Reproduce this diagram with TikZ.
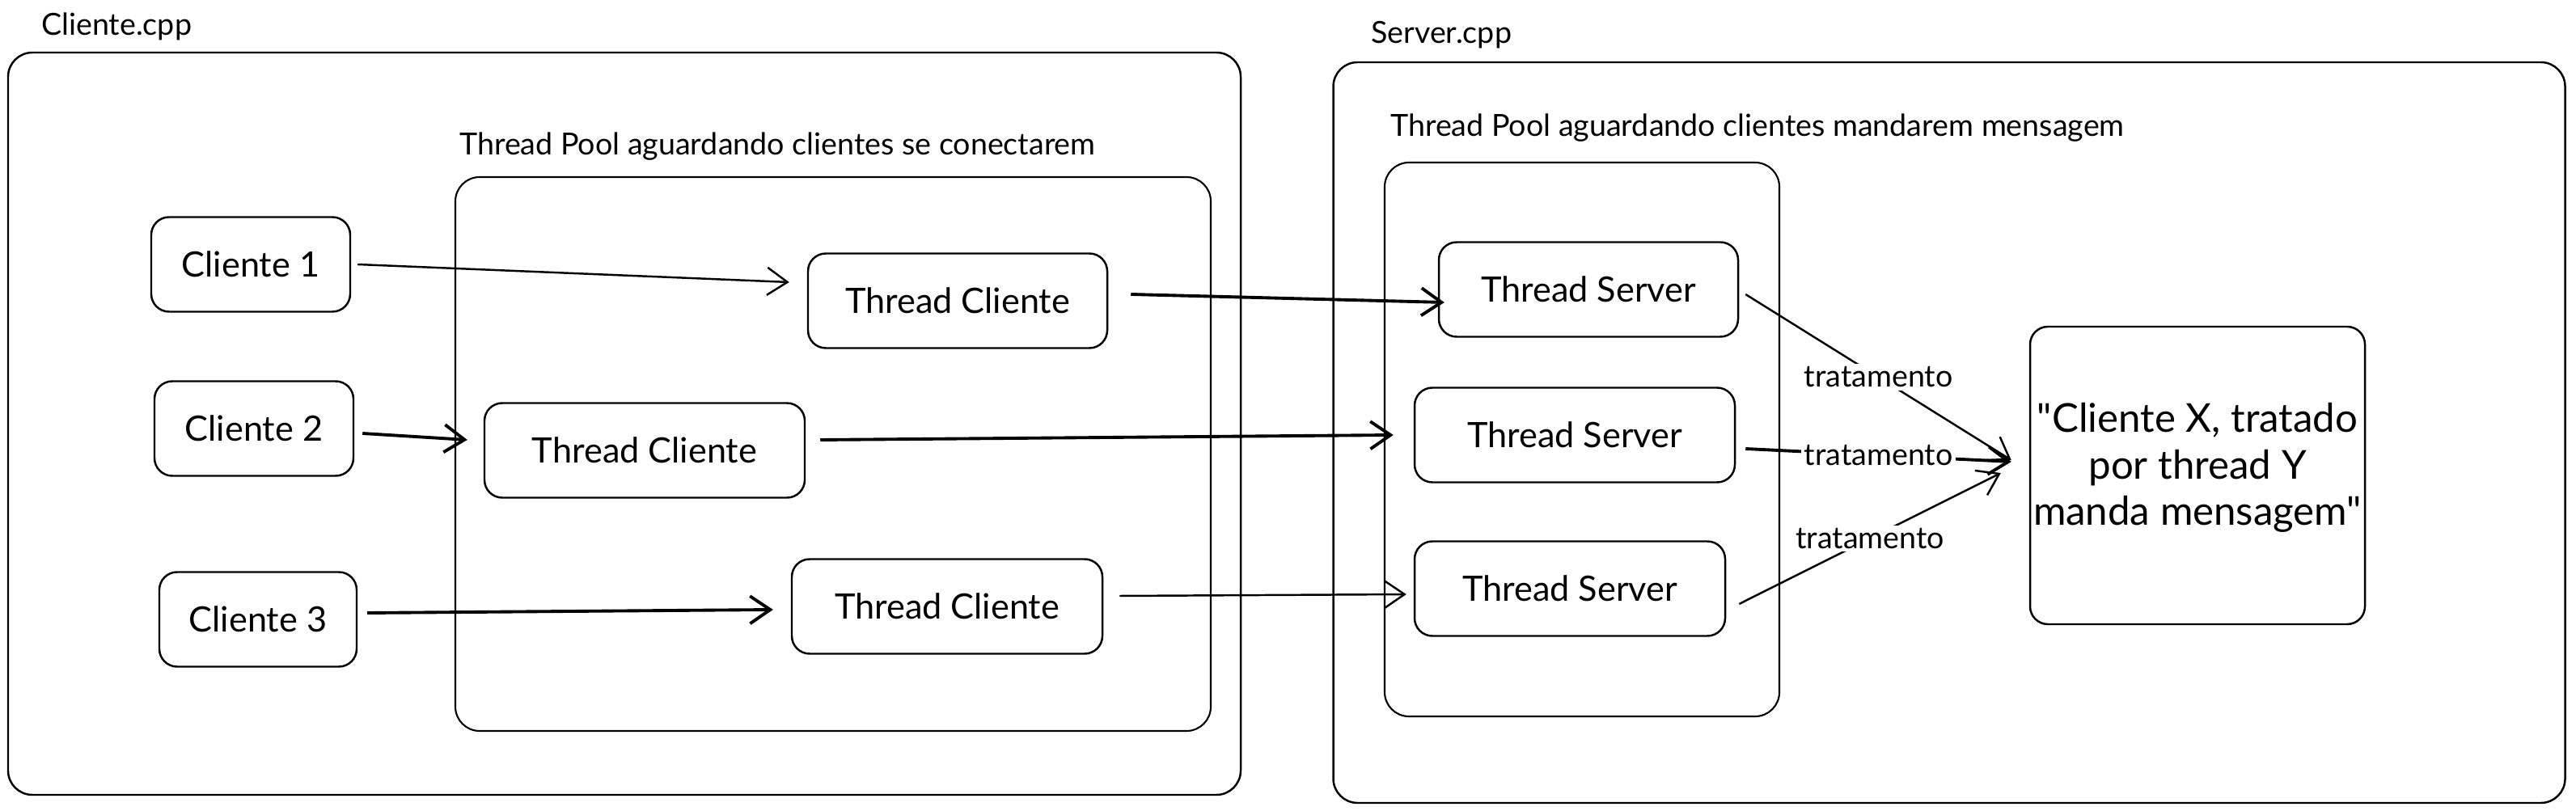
\documentclass[tikz,border=0pt]{standalone}
\usepackage{fontspec}
\setmainfont{Lato}[Ligatures=TeXOff]
\usetikzlibrary{arrows.meta}

\begin{document}
\begin{tikzpicture}[>={Straight Barb[length=2.5mm,width=3.4mm]}, line width=0.7pt,
        caixa/.style={draw=black, fill=white, rounded corners=0.22cm, minimum height=1.17cm, align=center, font=\fontsize{12.3}{14}\selectfont},
        grupo/.style={draw=black, rounded corners=0.3cm, inner sep=0pt},
        titulo/.style={anchor=west, inner sep=0pt, font=\fontsize{10.7}{12}\selectfont},
        rotulo/.style={fill=white, inner sep=1pt, font=\fontsize{10.7}{12}\selectfont},
        seta/.style={->, line width=0.7pt},
        setagrossa/.style={->, line width=1.1pt}]
        \useasboundingbox (0,0) rectangle (31.85,-10.03);

        \node(clientecpp)[titulo] at (0.50,-0.33){Cliente.cpp};
        \node(servercpp)[titulo] at (16.94,-0.43){Server.cpp};
        \node(cliente)[grupo, minimum width=15.24cm, minimum height=9.18cm] at (7.72,-5.24){};
        \node(server)[grupo, minimum width=15.23cm, minimum height=9.16cm] at (24.10,-5.35){};

        \node(titulopoolcliente)[titulo] at (5.67,-1.81){Thread Pool aguardando clientes se conectarem};
        \node(titulopoolserver)[titulo] at (17.18,-1.58){Thread Pool aguardando clientes mandarem mensagem};
        \node(poolcliente)[grupo, line width=0.6pt, minimum width=9.34cm, minimum height=6.85cm] at (10.30,-5.615){};
        \node(poolserver)[grupo, line width=0.6pt, minimum width=4.88cm, minimum height=6.85cm] at (19.56,-5.435){};

        \node(cliente1)[caixa, minimum width=2.46cm] at (3.10,-3.27){Cliente 1};
        \node(cliente2)[caixa, minimum width=2.46cm] at (3.14,-5.30){Cliente 2};
        \node(cliente3)[caixa, minimum width=2.44cm] at (3.19,-7.66){Cliente 3};
        \node(tcliente1)[caixa, minimum width=3.70cm] at (11.84,-3.72){Thread Cliente};
        \node(tcliente2)[caixa, minimum width=3.96cm] at (7.97,-5.57){Thread Cliente};
        \node(tcliente3)[caixa, minimum width=3.84cm] at (11.71,-7.50){Thread Cliente};
        \node(tserver1)[caixa, minimum width=3.70cm] at (19.64,-3.58){Thread Server};
        \node(tserver2)[caixa, minimum width=3.96cm] at (19.47,-5.38){Thread Server};
        \node(tserver3)[caixa, minimum width=3.84cm] at (19.41,-7.28){Thread Server};
        \node(mensagem)[caixa, inner xsep=0.04cm, minimum width=4.13cm, minimum height=3.68cm, text depth=0.28cm, font=\fontsize{14}{16.3}\selectfont] at (27.17,-5.88){"Cliente X, tratado\\por thread Y\\manda mensagem"};

        \draw[seta] ([xshift=0.08cm]cliente1.east) -- ([xshift=-0.22cm, yshift=0.23cm]tcliente1.west);
        \draw[setagrossa] ([xshift=0.10cm, yshift=-0.06cm]cliente2.east) -- ([xshift=-0.20cm, yshift=0.13cm]tcliente2.west);
        \draw[setagrossa] ([xshift=0.12cm, yshift=0.08cm]cliente3.east) -- ([xshift=-0.22cm, yshift=-0.04cm]tcliente3.west);

        \draw[setagrossa] ([xshift=0.28cm, yshift=0.08cm]tcliente1.east) -- ([xshift=0.08cm, yshift=-0.16cm]tserver1.west);
        \draw[setagrossa] ([xshift=0.18cm, yshift=0.13cm]tcliente2.east) -- ([xshift=-0.25cm]tserver2.west);
        \draw[seta] ([xshift=0.20cm, yshift=0.13cm]tcliente3.east) -- ([xshift=-0.09cm, yshift=-0.07cm]tserver3.west);

        \draw[seta] ([xshift=0.08cm, yshift=-0.06cm]tserver1.east) -- node(trat1)[rotulo]{tratamento} ([xshift=-0.22cm, yshift=0.19cm]mensagem.west);
        \draw[setagrossa] ([xshift=0.12cm, yshift=-0.17cm]tserver2.east) -- node(trat2)[rotulo]{tratamento} ([xshift=-0.22cm, yshift=0.17cm]mensagem.west);
        \draw[seta] ([xshift=0.16cm, yshift=-0.19cm]tserver3.east) -- node(trat3)[rotulo]{tratamento} ([xshift=-0.35cm, yshift=0.03cm]mensagem.west);
    \end{tikzpicture}
\end{document}
